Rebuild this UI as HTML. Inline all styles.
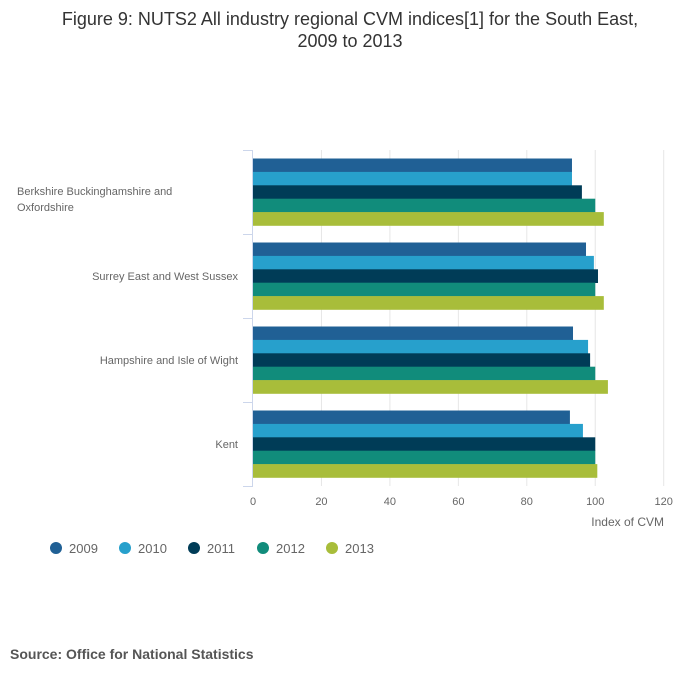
<!DOCTYPE html>
<html><head><meta charset="utf-8"><style>
body{margin:0;background:#fff;font-family:"Liberation Sans",sans-serif;}
#wrap{position:relative;width:700px;height:682px;overflow:hidden;}
.title{position:absolute;left:0;top:8px;width:700px;text-align:center;font-size:18px;color:#333;line-height:22px;}
.src{position:absolute;left:10px;top:646px;font-size:14px;font-weight:bold;color:#555;}
</style></head><body>
<div id="wrap">
<div class="title">Figure 9: NUTS2 All industry regional CVM indices[1] for the South East,<br>2009 to 2013</div>
<svg id="chart" width="700" height="682" style="position:absolute;left:0;top:0"></svg>
<div class="src">Source: Office for National Statistics</div>
</div>
<script>
const categories=["Berkshire Buckinghamshire and|Oxfordshire","Surrey East and West Sussex","Hampshire and Isle of Wight","Kent"];
const seriesNames=["2009","2010","2011","2012","2013"];
const v2009=[93.2,97.3,93.5,92.6];
const v2010=[93.2,99.6,97.9,96.4];
const v2011=[96.1,100.8,98.5,100];
const v2012=[100,100,100,100];
const v2013=[102.5,102.5,103.7,100.6];
const xTicks=[0,20,40,60,80,100,120];
const colors=["#206095","#27a0cc","#003c57","#118c7b","#a8bd3a"];
const series=[v2009,v2010,v2011,v2012,v2013];
const NS="http://www.w3.org/2000/svg";
const svg=document.getElementById('chart');
const x0=253,x1=663.7,xMax=120,yTop=150,yBot=486;
const xs=v=>x0+(x1-x0)*v/xMax;
const band=(yBot-yTop)/categories.length;
function mk(t,a,txt){const e=document.createElementNS(NS,t);for(const k in a)e.setAttribute(k,a[k]);if(txt!==undefined)e.textContent=txt;svg.appendChild(e);return e;}
xTicks.forEach(t=>{
 if(t>0){const g=mk('line',{x1:xs(t),x2:xs(t),y1:yTop,y2:yBot,stroke:'#e6e6e6','stroke-width':1});
 
 }
 const l=mk('text',{x:xs(t),y:505,'text-anchor':'middle','font-size':11,fill:'#666'},t);
 
 
});
const ax=mk('line',{x1:x0-0.5,x2:x0-0.5,y1:yTop,y2:yBot,stroke:'#ccd6eb'});


for(let i=0;i<=categories.length;i++){const tk=mk('line',{x1:x0-10,x2:x0,y1:yTop+i*band+0.5,y2:yTop+i*band+0.5,stroke:'#ccd6eb'});
 
 }
const pad=8.5,bh=(band-2*pad)/series.length;
categories.forEach((c,i)=>{
 const lines=c.split('|');const cy=yTop+i*band+band/2;
 const t=mk('text',{'font-size':11,fill:'#666','text-anchor':lines.length>1?'start':'end'});
 
 
 lines.forEach((ln,j)=>{const ts=document.createElementNS(NS,'tspan');ts.setAttribute('x',lines.length>1?17:238);ts.setAttribute('y',cy+4+(lines.length>1?7:0)+(j-(lines.length-1)/2)*16);ts.textContent=ln;t.appendChild(ts);});
 series.forEach((s,k)=>{
  const r=mk('rect',{x:x0,y:yTop+i*band+pad+k*bh,width:xs(s[i])-x0,height:bh+0.3,fill:colors[k]});
  
  
 });
});
const at=mk('text',{x:664,y:526,'text-anchor':'end','font-size':12,fill:'#666'},'Index of CVM');


const lx=[56,125,194,263,332];
seriesNames.forEach((n,k)=>{
 const c=mk('circle',{cx:lx[k],cy:548,r:6,fill:colors[k]});
 
 
 const t=mk('text',{x:lx[k]+13,y:553,'font-size':13,fill:'#666'},n);
 
 
});
</script>
</body></html>
